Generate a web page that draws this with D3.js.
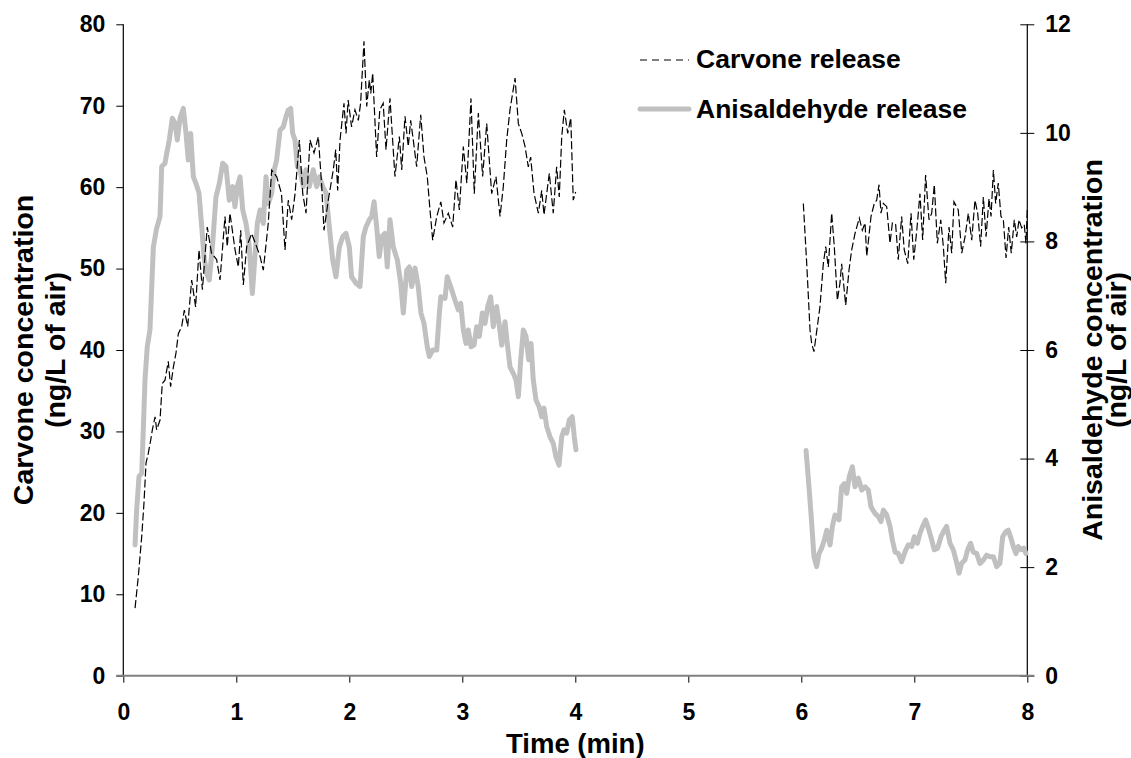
<!DOCTYPE html>
<html>
<head>
<meta charset="utf-8">
<script src="https://cdn.jsdelivr.net/npm/d3@7"></script>
<style>
  body { margin: 0; background: #fff; }
  svg text { font-family: "Liberation Sans", Arial, sans-serif; font-weight: bold; fill: #000; }
</style>
</head>
<body>
<svg id="chart" width="1131" height="758"></svg>
<script>
// carvone (left axis), [min, ng/L]
let carvoneEarly = [[0.104,8.3],[0.133,12.2],[0.163,17.1],[0.183,21.2],[0.201,26.1],[0.221,27.3],[0.242,28.9],[0.257,30.2],[0.281,31.8],[0.295,30.2],[0.325,31.4],[0.345,35.9],[0.369,36.3],[0.398,38.6],[0.419,35.5],[0.443,37.9],[0.466,39.6],[0.487,42.0],[0.517,42.9],[0.54,44.9],[0.57,42.9],[0.605,48.6],[0.64,45.3],[0.67,52.3],[0.70,47.4],[0.743,55.1],[0.78,51.9],[0.826,51.1],[0.856,48.6],[0.90,56.4],[0.92,52.7],[0.944,56.8],[0.989,52.3],[1.018,50.2],[1.039,54.7],[1.062,48.0],[1.092,52.7],[1.136,54.3],[1.18,52.7],[1.21,51.5],[1.239,49.8],[1.283,55.6],[1.313,62.1],[1.357,61.3],[1.40,59.2],[1.431,52.3],[1.46,58.4],[1.49,56.0],[1.52,59.2],[1.558,65.8],[1.588,59.2],[1.617,56.8],[1.652,65.8],[1.688,64.2],[1.726,66.2],[1.756,60.1],[1.776,54.7],[1.814,58.4],[1.858,62.1],[1.88,64.6],[1.897,59.6],[1.918,65.8],[1.953,70.3],[1.971,66.6],[1.99,70.7],[2.02,67.4],[2.05,69.5],[2.08,68.2],[2.10,70.3],[2.13,77.9],[2.154,69.9],[2.177,73.2],[2.19,71.5],[2.207,74.0],[2.242,63.7],[2.27,69.5],[2.30,70.3],[2.325,64.6],[2.36,70.9],[2.404,61.3],[2.443,66.2],[2.464,62.1],[2.493,68.7],[2.522,65.0],[2.543,68.2],[2.566,65.8],[2.596,62.5],[2.632,68.9],[2.661,63.7],[2.69,61.3],[2.714,57.2],[2.738,53.5],[2.774,56.4],[2.81,58.2],[2.838,55.6],[2.876,56.8],[2.915,55.1],[2.944,60.9],[2.974,57.2],[3.009,65.0],[3.04,60.5],[3.077,70.9],[3.106,59.2],[3.142,69.1],[3.18,61.3],[3.216,67.8],[3.26,59.2],[3.298,61.3],[3.334,56.4],[3.363,60.1],[3.393,65.8],[3.422,69.5],[3.467,73.4],[3.496,67.8],[3.526,66.6],[3.555,65.0],[3.584,62.5],[3.605,63.7],[3.635,59.2],[3.673,56.8],[3.703,59.6],[3.723,56.6],[3.77,61.7],[3.805,56.8],[3.835,62.5],[3.858,58.8],[3.88,66.2],[3.903,69.5],[3.933,66.6],[3.96,68.5],[3.982,58.4],[4.003,59.4]];

let carvoneLate = [[6.018,58.0],[6.048,50.6],[6.077,42.5],[6.092,40.8],[6.112,39.8],[6.142,42.9],[6.165,45.3],[6.195,50.6],[6.216,52.7],[6.239,50.2],[6.269,56.8],[6.292,52.7],[6.319,46.1],[6.342,48.2],[6.357,50.6],[6.393,45.5],[6.422,49.8],[6.446,52.3],[6.475,54.3],[6.513,56.2],[6.54,54.7],[6.564,55.6],[6.579,51.5],[6.617,56.4],[6.646,58.0],[6.667,58.4],[6.688,60.3],[6.705,56.8],[6.726,58.0],[6.756,57.6],[6.785,53.1],[6.806,55.6],[6.835,55.4],[6.858,51.1],[6.888,56.4],[6.911,52.3],[6.942,50.6],[6.971,56.8],[6.995,51.1],[7.022,54.7],[7.05,59.2],[7.074,53.5],[7.10,61.5],[7.13,56.0],[7.154,56.8],[7.177,60.3],[7.204,53.1],[7.234,56.0],[7.257,52.7],[7.278,48.2],[7.307,55.1],[7.331,51.9],[7.351,58.2],[7.389,57.2],[7.42,51.9],[7.449,53.9],[7.478,56.8],[7.508,53.5],[7.537,58.4],[7.561,56.8],[7.587,52.7],[7.611,58.8],[7.635,53.9],[7.661,58.6],[7.679,56.4],[7.70,62.1],[7.72,58.0],[7.743,60.5],[7.767,56.4],[7.788,56.0],[7.812,51.3],[7.835,55.1],[7.858,51.9],[7.885,56.0],[7.906,53.9],[7.927,56.0],[7.95,55.0],[7.973,55.4],[7.988,53.1],[8.0,57.2]];

// anisaldehyde (right axis), [min, ng/L]
let anisEarly = [[0.104,2.41],[0.118,3.05],[0.139,3.67],[0.163,3.73],[0.177,4.53],[0.192,5.45],[0.212,6.06],[0.236,6.37],[0.266,7.90],[0.295,8.24],[0.325,8.46],[0.34,9.38],[0.369,9.44],[0.384,9.62],[0.407,9.87],[0.434,10.27],[0.458,10.18],[0.478,9.87],[0.502,10.27],[0.531,10.45],[0.555,9.99],[0.575,9.50],[0.596,9.99],[0.62,9.19],[0.643,9.07],[0.67,8.89],[0.694,8.27],[0.714,7.72],[0.738,7.41],[0.761,7.29],[0.791,7.97],[0.82,8.82],[0.85,9.07],[0.88,9.44],[0.909,9.38],[0.938,8.76],[0.968,9.01],[0.988,8.64],[1.009,9.01],[1.033,9.19],[1.057,8.58],[1.086,8.33],[1.115,7.90],[1.142,7.04],[1.165,7.72],[1.186,8.33],[1.21,8.58],[1.239,8.33],[1.263,9.19],[1.283,8.70],[1.313,8.89],[1.336,9.32],[1.357,9.50],[1.387,10.05],[1.416,10.11],[1.44,10.30],[1.46,10.42],[1.481,10.45],[1.499,9.99],[1.52,9.87],[1.54,9.38],[1.564,9.32],[1.593,9.01],[1.617,9.32],[1.646,9.01],[1.681,9.32],[1.711,9.01],[1.735,9.19],[1.765,9.01],[1.794,8.89],[1.823,8.27],[1.853,7.66],[1.882,7.35],[1.912,7.90],[1.942,8.09],[1.971,8.15],[2.0,7.90],[2.02,7.35],[2.06,7.23],[2.095,7.17],[2.124,8.09],[2.148,8.27],[2.177,8.40],[2.198,8.46],[2.219,8.73],[2.242,8.27],[2.265,7.72],[2.289,8.09],[2.316,8.15],[2.336,7.53],[2.36,8.40],[2.389,7.90],[2.425,7.66],[2.455,7.23],[2.478,6.68],[2.508,7.47],[2.531,7.53],[2.552,7.17],[2.581,7.51],[2.61,7.17],[2.634,6.68],[2.661,6.49],[2.69,6.06],[2.708,5.88],[2.738,6.0],[2.774,6.0],[2.797,6.68],[2.81,6.98],[2.847,6.95],[2.867,7.35],[2.906,7.11],[2.935,6.92],[2.965,6.74],[2.986,6.86],[3.009,6.37],[3.033,6.12],[3.053,6.37],[3.077,6.06],[3.104,6.09],[3.127,6.43],[3.151,6.25],[3.177,6.68],[3.201,6.49],[3.225,6.80],[3.251,6.98],[3.274,6.43],[3.304,6.80],[3.325,6.49],[3.349,6.09],[3.378,6.52],[3.398,6.12],[3.422,5.69],[3.451,5.57],[3.475,5.45],[3.496,5.14],[3.517,5.82],[3.54,6.37],[3.564,6.25],[3.588,5.82],[3.608,6.12],[3.628,5.45],[3.652,5.08],[3.679,4.96],[3.703,4.77],[3.723,4.93],[3.747,4.59],[3.776,4.40],[3.805,4.28],[3.829,4.03],[3.856,3.88],[3.88,4.40],[3.90,4.53],[3.924,4.47],[3.947,4.71],[3.973,4.77],[3.991,4.40],[4.006,4.16]];

let anisLate = [[6.042,4.15],[6.068,3.48],[6.092,2.81],[6.112,2.19],[6.136,2.01],[6.157,2.25],[6.18,2.35],[6.204,2.50],[6.225,2.68],[6.254,2.41],[6.275,2.75],[6.298,2.96],[6.334,2.87],[6.357,3.48],[6.381,3.54],[6.402,3.36],[6.425,3.67],[6.452,3.85],[6.475,3.48],[6.505,3.64],[6.535,3.42],[6.564,3.48],[6.593,3.42],[6.617,3.11],[6.652,2.99],[6.682,2.93],[6.705,2.84],[6.726,3.05],[6.756,2.96],[6.785,2.75],[6.806,2.50],[6.83,2.28],[6.858,2.25],[6.888,2.10],[6.917,2.28],[6.947,2.41],[6.977,2.38],[7.0,2.56],[7.027,2.44],[7.05,2.62],[7.074,2.75],[7.10,2.87],[7.124,2.72],[7.154,2.50],[7.177,2.32],[7.207,2.35],[7.236,2.56],[7.265,2.68],[7.286,2.75],[7.316,2.44],[7.345,2.32],[7.369,2.13],[7.396,1.89],[7.419,2.07],[7.448,2.13],[7.472,2.32],[7.498,2.44],[7.522,2.28],[7.552,2.25],[7.581,2.07],[7.611,2.13],[7.64,2.22],[7.67,2.19],[7.70,2.19],[7.729,2.01],[7.758,2.07],[7.782,2.56],[7.809,2.65],[7.832,2.68],[7.856,2.53],[7.876,2.38],[7.90,2.25],[7.92,2.38],[7.944,2.32],[7.968,2.35],[7.988,2.25]];

let xTicks = [0, 1, 2, 3, 4, 5, 6, 7, 8];
let leftTicks = [0, 10, 20, 30, 40, 50, 60, 70, 80];
let rightTicks = [0, 2, 4, 6, 8, 10, 12];

let svg = d3.select("#chart");
let margin = {left: 123.3, right: 1131 - 1027.3, top: 24.3, bottom: 758 - 675.7};
let W = 1131, H = 758;

let x = d3.scaleLinear().domain([0, 8]).range([margin.left, W - margin.right]);
let yLeft = d3.scaleLinear().domain([0, 80]).range([H - margin.bottom, margin.top]);
let yRight = d3.scaleLinear().domain([0, 12]).range([H - margin.bottom, margin.top]);

//left axis, ticks pointing out
let gl = svg.append("g")
    .attr("transform", `translate(${margin.left},0)`)
    .call(d3.axisLeft(yLeft).tickValues(leftTicks).tickSize(7).tickPadding(11));

//right axis, ticks crossing the line
let gr = svg.append("g")
    .attr("transform", `translate(${W - margin.right},0)`)
    .call(d3.axisRight(yRight).tickValues(rightTicks).tickSize(7).tickPadding(11));
gr.selectAll(".tick line").attr("x1", -7);

//bottom axis (grey baseline)
let gb = svg.append("g")
    .attr("transform", `translate(0,${H - margin.bottom})`)
    .call(d3.axisBottom(x).tickValues(xTicks).tickSize(7).tickPadding(21));
gb.select(".domain").remove();

[gl, gr, gb].forEach(g => {
    g.selectAll("text").style("font-size", "23px").style("font-family", "Liberation Sans, Arial, sans-serif").style("font-weight", "bold").attr("fill", "#000");
    g.selectAll(".tick line").attr("stroke", "#000").attr("stroke-width", 1);
    g.select(".domain").attr("stroke", "#000").attr("stroke-width", 1.2);
});
gl.select(".domain").attr("d", `M0,${margin.top}V${H - margin.bottom}`);
gr.select(".domain").attr("d", `M0,${margin.top}V${H - margin.bottom}`);

svg.append("line")
   .attr("x1", margin.left - 7)
   .attr("x2", W - margin.right + 7)
   .attr("y1", yLeft(0))
   .attr("y2", yLeft(0))
   .attr("stroke", "#808080")
   .attr("stroke-width", 2);

//series
let lineL = d3.line().x(d => x(d[0])).y(d => yLeft(d[1]));
let lineR = d3.line().x(d => x(d[0])).y(d => yRight(d[1]));

[anisEarly, anisLate].forEach(s => {
    svg.append("path")
       .datum(s)
       .attr("fill", "none")
       .attr("stroke", "#c0c0c0")
       .attr("stroke-width", 5)
       .attr("stroke-linejoin", "round")
       .attr("stroke-linecap", "round")
       .attr("d", lineR);
});

[carvoneEarly, carvoneLate].forEach(s => {
    svg.append("path")
       .datum(s)
       .attr("fill", "none")
       .attr("stroke", "#000")
       .attr("stroke-width", 1.2)
       .attr("stroke-dasharray", "8,3")
       .attr("d", lineL);
});

//axis titles
svg.append("text")
   .attr("x", x(4))
   .attr("y", 753)
   .attr("text-anchor", "middle")
   .style("font-size", "27.5px")
   .text("Time (min)");

let midY = (margin.top + H - margin.bottom) / 2;
let leftTitle = svg.append("text")
   .attr("transform", `translate(33,${midY}) rotate(-90)`)
   .attr("text-anchor", "middle")
   .style("font-size", "28.5px");
leftTitle.append("tspan").attr("x", 0).attr("y", 0).text("Carvone concentration");
leftTitle.append("tspan").attr("x", 0).attr("y", 32).text("(ng/L of air)");

let rightTitle = svg.append("text")
   .attr("transform", `translate(1102,${midY}) rotate(-90)`)
   .attr("text-anchor", "middle")
   .style("font-size", "28.5px");
rightTitle.append("tspan").attr("x", 0).attr("y", 0).text("Anisaldehyde concentration");
rightTitle.append("tspan").attr("x", 0).attr("y", 24).text("(ng/L of air)");

//legend
let legend = svg.append("g").attr("id", "legend");
legend.append("line")
      .attr("x1", 640).attr("x2", 689).attr("y1", 60).attr("y2", 60)
      .attr("stroke", "#000").attr("stroke-width", 1.2).attr("stroke-dasharray", "7,5");
legend.append("text").attr("x", 696).attr("y", 68).style("font-size", "26.5px").text("Carvone release");
legend.append("line")
      .attr("x1", 640).attr("x2", 689).attr("y1", 109).attr("y2", 109)
      .attr("stroke", "#c0c0c0").attr("stroke-width", 5).attr("stroke-linecap", "round");
legend.append("text").attr("x", 696).attr("y", 118).style("font-size", "26.5px").text("Anisaldehyde release");
</script>
</body>
</html>
